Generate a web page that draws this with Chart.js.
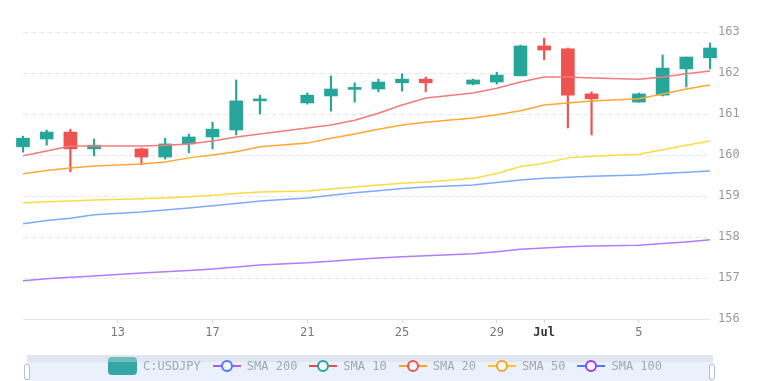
<!DOCTYPE html>
<html>
<head>
<meta charset="utf-8">
<script src="https://cdn.jsdelivr.net/npm/chart.js@4.4.0/dist/chart.umd.min.js"></script>
<style>
  body { margin: 0; background: #fff; }
  #wrap { position: relative; width: 770px; height: 381px; overflow: hidden; }
  #slider { position: absolute; left: 27px; top: 355px; width: 686px; height: 30px; background: #eaf0fc; border-top: 7px solid #e1e6f1; box-sizing: border-box; }
  .handle { position: absolute; top: 364px; width: 4px; height: 14px; background: #fff; border: 1px solid #b8bfcc; border-radius: 2px; }
  #legend { position: absolute; left: 0; top: 357px; width: 770px; height: 18px; display: flex; justify-content: center; align-items: center;
            font: 12px 'DejaVu Sans Mono', monospace; color: #a3a8b1; }
  .item { display: flex; align-items: center; margin: 0 6px; }
  .item span { margin-left: 6px; }
  .candle-icon { width: 29px; height: 18px; border-radius: 4px; background: linear-gradient(#6fbcbc 0 30%, #36a6a6 30%); }
  .line-icon { position: relative; width: 28px; height: 14px; }
  .line-icon i { position: absolute; left: 0; top: 6px; width: 28px; height: 2px; }
  .line-icon b { position: absolute; left: 8px; top: 1px; width: 8px; height: 8px; border-radius: 50%; background: #f4f6fb; border: 2px solid; }
</style>
</head>
<body>
<div id="wrap">
  <canvas id="chart" width="770" height="381"></canvas>
  <div id="slider"></div>
  <div class="handle" style="left:24px"></div>
  <div class="handle" style="left:709px"></div>
  <div id="legend"></div>
</div>
<script>
// USDJPY daily candles
const dates = ['06-09','06-10','06-11','06-12','06-14','06-15','06-16','06-17','06-18','06-19',
               '06-21','06-22','06-23','06-24','06-25','06-26','06-28','06-29','06-30',
               '07-01','07-02','07-03','07-05','07-06','07-07','07-08'];
const open  = [160.20,160.39,160.56,160.15,160.15,159.95,160.27,160.44,160.61,161.32,
               161.27,161.44,161.60,161.61,161.76,161.85,161.73,161.78,161.93,
               162.66,162.59,161.49,161.29,161.46,162.10,162.37];
const high  = [160.46,160.61,160.63,160.39,160.17,160.41,160.51,160.80,161.83,161.46,
               161.51,161.93,161.76,161.85,161.98,161.90,161.85,162.02,162.68,
               162.85,162.61,161.54,161.51,162.44,162.39,162.73];
const low   = [160.07,160.24,159.59,159.98,159.76,159.90,160.05,160.15,160.49,161.00,
               161.24,161.07,161.29,161.54,161.56,161.54,161.71,161.73,161.93,
               162.32,160.66,160.49,161.29,161.44,161.66,162.10];
const close = [160.41,160.56,160.15,160.24,159.95,160.27,160.44,160.63,161.32,161.35,
               161.46,161.61,161.63,161.78,161.85,161.76,161.83,161.95,162.66,
               162.56,161.46,161.37,161.49,162.12,162.39,162.61];

const sma10  = [159.98,160.10,160.22,160.22,160.22,160.24,160.27,160.34,160.44,160.51,
                160.66,160.73,160.85,161.02,161.22,161.39,161.51,161.63,161.78,
                161.90,161.90,161.88,161.85,161.90,161.98,162.05];
const sma20  = [159.54,159.62,159.68,159.73,159.78,159.83,159.93,160.00,160.08,160.20,
                160.29,160.41,160.51,160.63,160.73,160.80,160.90,160.98,161.08,
                161.22,161.27,161.32,161.37,161.49,161.61,161.71];
const sma50  = [158.83,158.86,158.88,158.90,158.93,158.95,158.98,159.02,159.06,159.10,
                159.12,159.17,159.22,159.27,159.31,159.34,159.43,159.55,159.72,
                159.80,159.93,159.97,160.02,160.13,160.24,160.34];
const sma100 = [158.32,158.40,158.46,158.54,158.61,158.66,158.71,158.76,158.82,158.88,
                158.95,159.02,159.08,159.13,159.18,159.22,159.27,159.33,159.39,
                159.43,159.46,159.48,159.51,159.55,159.58,159.61];
const sma200 = [156.93,156.98,157.02,157.05,157.12,157.15,157.18,157.22,157.27,157.32,
                157.37,157.41,157.45,157.49,157.52,157.54,157.59,157.64,157.70,
                157.73,157.76,157.78,157.80,157.84,157.88,157.93];

const tickDates  = ['06-13','06-17','06-21','06-25','06-29','07-01','07-05'];
const tickLabels = ['13','17','21','25','29','Jul','5'];

const UP = '#26a69a', DOWN = '#ef5350';
const dayIndex = d => (Date.UTC(2024, +d.slice(0, 2) - 1, +d.slice(3)) - Date.UTC(2024, 5, 9)) / 86400000;
const xs = dates.map(dayIndex);
const tickXs = tickDates.map(dayIndex);
const candleColors = open.map((o, i) => close[i] >= o ? UP : DOWN);

const series = [
  { label: 'SMA 200', data: sma200, color: '#b07cff', iconLine: '#a65cff', iconDot: '#4a7bff' },
  { label: 'SMA 10',  data: sma10,  color: '#f57a7a', iconLine: '#f04848', iconDot: '#26a69a' },
  { label: 'SMA 20',  data: sma20,  color: '#ffa733', iconLine: '#f5a623', iconDot: '#ef5350' },
  { label: 'SMA 50',  data: sma50,  color: '#fddb3f', iconLine: '#f8c81c', iconDot: '#f5a623' },
  { label: 'SMA 100', data: sma100, color: '#7ea9ff', iconLine: '#4a7bff', iconDot: '#9b3fd6' }
];

const font = { family: "'DejaVu Sans Mono', monospace", size: 12 };

const datasets = [
  {
    type: 'bar', label: 'wick', order: 3, grouped: false, clip: false,
    data: xs.map((x, i) => ({ x: x, y: [low[i], high[i]] })),
    backgroundColor: candleColors, barThickness: 1.5
  },
  {
    type: 'bar', label: 'C:USDJPY', order: 2, grouped: false, clip: false,
    data: xs.map((x, i) => ({ x: x, y: [open[i], close[i]] })),
    backgroundColor: candleColors, barThickness: 13, minBarLength: 2
  }
].concat(series.map(s => ({
  type: 'line', label: s.label, order: 1,
  data: xs.map((x, i) => ({ x: x, y: s.data[i] })),
  borderColor: s.color, borderWidth: 1.5, pointRadius: 0, tension: 0, fill: false
})));

new Chart(document.getElementById('chart').getContext('2d'), {
  type: 'bar',
  data: { datasets: datasets },
  options: {
    responsive: false,
    animation: false,
    events: [],
    layout: { padding: { left: 23, top: 32, right: 0, bottom: 32 } },
    plugins: { legend: { display: false }, tooltip: { enabled: false } },
    scales: {
      x: {
        type: 'linear', min: 0, max: 29, offset: false,
        grid: { offset: false, drawOnChartArea: false, drawTicks: true, tickLength: 4, color: '#d6d6d6' },
        border: { color: '#e6e6e6' },
        ticks: {
          autoSkip: false, maxRotation: 0, padding: 3,
          color: c => (c.tick && c.tick.value === tickXs[5]) ? '#333' : '#777',
          font: c => (c.tick && c.tick.value === tickXs[5]) ? { ...font, weight: 'bold' } : font,
          callback: v => tickLabels[tickXs.indexOf(v)]
        },
        afterBuildTicks: s => { s.ticks = tickXs.map(v => ({ value: v })); },
        afterFit: s => { s.height = 30; }
      },
      y: {
        position: 'right', min: 156, max: 163,
        grid: { color: '#e8e8e8', drawTicks: false },
        border: { display: false, dash: [5, 3] },
        ticks: { stepSize: 1, padding: 8, color: '#999', font: font },
        afterFit: s => { s.width = 60; }
      }
    }
  }
});

// legend drawn over the zoom slider
const legend = document.getElementById('legend');
legend.innerHTML = '<div class="item"><div class="candle-icon"></div><span>C:USDJPY</span></div>' +
  series.map(s => `<div class="item"><div class="line-icon"><i style="background:${s.iconLine}"></i>` +
    `<b style="border-color:${s.iconDot}"></b></div><span>${s.label}</span></div>`).join('');
</script>
</body>
</html>
